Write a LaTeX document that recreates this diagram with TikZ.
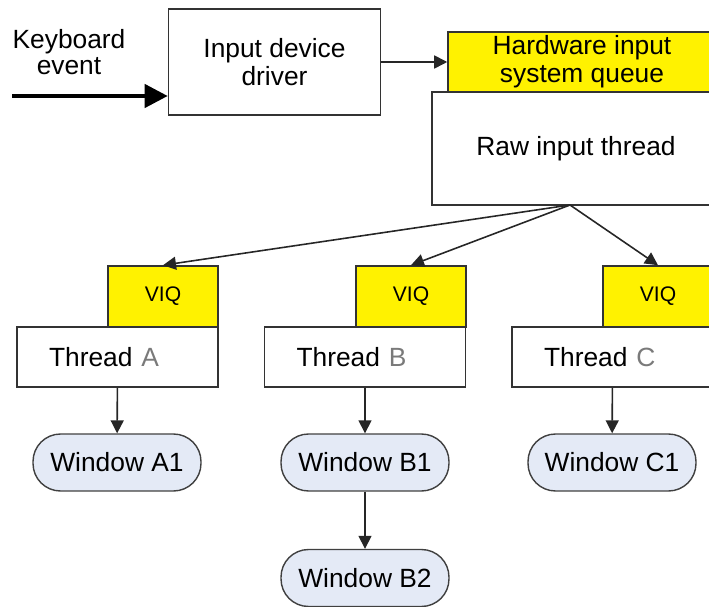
\documentclass[tikz,border=0pt]{standalone}
\usepackage{fontspec}
\setmainfont{Liberation Sans}
\usetikzlibrary{arrows.meta}
\definecolor{winblue}{HTML}{E4EAF6}
\definecolor{thrgray}{HTML}{7A7A7A}

\begin{document}
\begin{tikzpicture}[x=0.02cm, y=-0.02cm,
        box/.style={draw=black!80, line width=0.9pt, inner sep=0pt, align=center,
            font=\fontsize{15}{16}\selectfont},
        queue/.style={box, fill=yellow},
        viq/.style={queue, minimum width=2.2cm, minimum height=1.22cm,
            font=\fontsize{12}{14}\selectfont},
        thrbox/.style={box, minimum height=1.2cm, text width=2.74cm, inner xsep=0.64cm, align=left},
        winbox/.style={draw=black!75, line width=0.8pt, fill=winblue, rounded corners=0.55cm,
            minimum width=3.36cm, minimum height=1.14cm, font=\fontsize{15}{16}\selectfont},
        link/.style={draw=black!85, line width=0.9pt, -{Triangle[length=0.26cm,width=0.26cm]}}]

    \useasboundingbox (0,0) rectangle (709,607);

    \coordinate (kin) at (12,96);
    \coordinate (rawout) at (570,205);

    \node[font=\fontsize{15}{15}\selectfont, align=center] (kbd) at (69,52) {Keyboard\\event};
    \node[box, minimum width=4.24cm, minimum height=2.12cm] (drv) at (274.5,62) {Input device\\driver};
    \node[queue, minimum width=5.36cm, minimum height=1.2cm] (hwq) at (582,62) {Hardware input\\system queue};
    \node[box, minimum width=5.76cm, minimum height=2.26cm] (raw) at (576,148.5) {Raw input thread};

    \node[viq] (viqA) at (163,296.5) {VIQ};
    \node[viq] (viqB) at (411,296.5) {VIQ};
    \node[viq] (viqC) at (658,296.5) {VIQ};

    \node[thrbox] (thrA) at (117.5,357) {Thread \textcolor{thrgray}{A}};
    \node[thrbox] (thrB) at (365,357) {Thread \textcolor{thrgray}{B}};
    \node[thrbox] (thrC) at (612.5,357) {Thread \textcolor{thrgray}{C}};

    \node[winbox] (winA1) at (117,462.5) {Window A1};
    \node[winbox] (winB1) at (365,462.5) {Window B1};
    \node[winbox] (winC1) at (612,462.5) {Window C1};
    \node[winbox] (winB2) at (365,578) {Window B2};

    \draw[line width=2.4pt, -{Triangle[length=0.46cm,width=0.46cm]}] (kin) -- (kin -| drv.west);
    \draw[link] (drv) -- (hwq);
    \draw[link] (rawout) -- (viqA.north);
    \draw[link] (rawout) -- (viqB.north);
    \draw[link] (rawout) -- (viqC.north);
    \draw[link] (thrA) -- (winA1);
    \draw[link] (thrB) -- (winB1);
    \draw[link] (thrC) -- (winC1);
    \draw[link] (winB1) -- (winB2);

\end{tikzpicture}
\end{document}
